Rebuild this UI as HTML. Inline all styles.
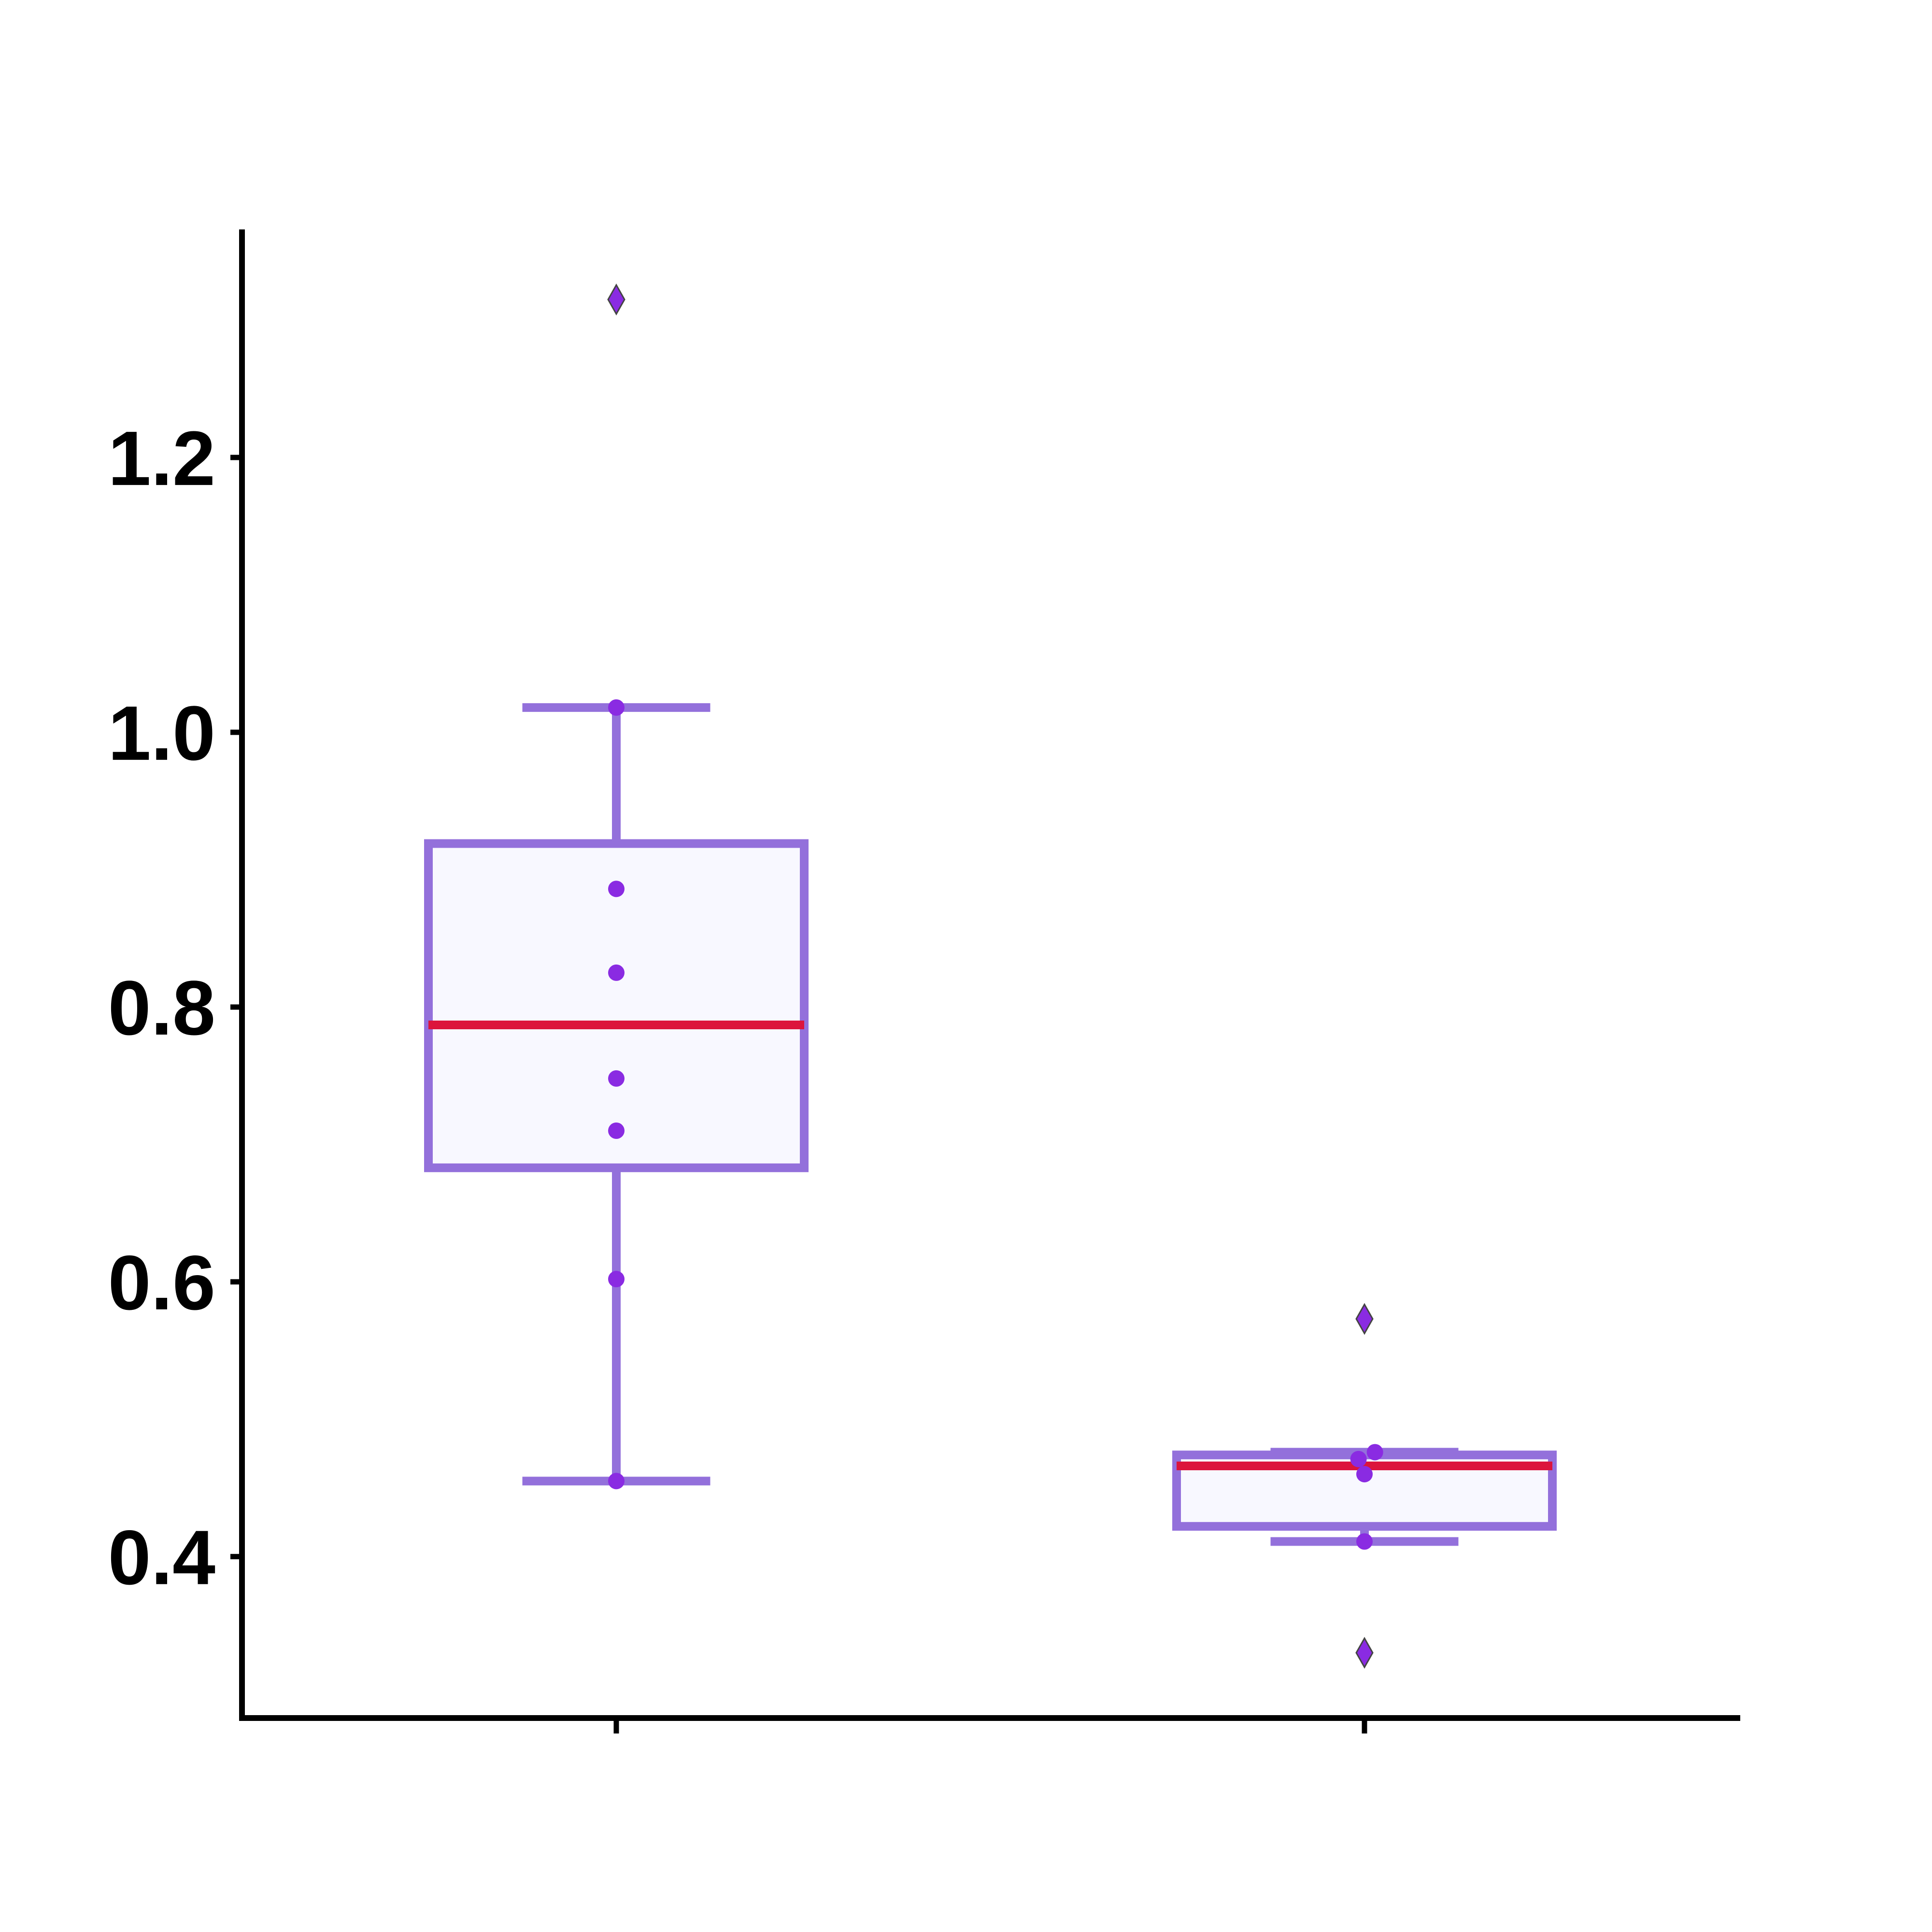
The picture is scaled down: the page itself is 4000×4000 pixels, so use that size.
<!DOCTYPE html>
<html><head><meta charset="utf-8"><style>
html,body{margin:0;padding:0;background:#fff}
svg{display:block}
text{font-family:"Liberation Sans",Arial,sans-serif;font-weight:bold}
</style></head><body>
<svg id="chart" width="4000" height="4000" viewBox="0 0 4000 4000" xmlns="http://www.w3.org/2000/svg"></svg>
<script>
const categories = ["A", "B"];
const q1Values = [0.683, 0.422];
const q3Values = [0.919, 0.474];
const medianValues = [0.787, 0.466];
const whiskerLow = [0.455, 0.411];
const whiskerHigh = [1.018, 0.476];
const pointsA = [1.018, 0.886, 0.825, 0.748, 0.710, 0.602, 0.455];
const pointsB = [0.471, 0.476, 0.460, 0.411];
const pointOffsetsB = [-0.008, 0.014, 0, 0];
const outliersA = [1.315];
const outliersB = [0.573, 0.330];
const yTicks = [0.4, 0.6, 0.8, 1.0, 1.2];
const yTickLabels = ["0.4", "0.6", "0.8", "1.0", "1.2"];

const svg = document.getElementById('chart');
const NS = 'http://www.w3.org/2000/svg';
const L = 501, R = 3603, T = 475, B = 3557;
const yMin = 0.2825, yMax = 1.366;
function y(v){ return B - (v - yMin) / (yMax - yMin) * (B - T); }
const catX = [1276, 2825];
const boxW = 778;
function x(i, off){ return catX[i] + (off || 0) * (catX[1] - catX[0]); }
function mk(tag, attrs){ const e = document.createElementNS(NS, tag); for (const k in attrs) e.setAttribute(k, attrs[k]); svg.appendChild(e); return e; }

const pts = [pointsA, pointsB];
const outs = [outliersA, outliersB];
categories.forEach((c, i) => {
  const cx = x(i);
  let e = mk('line', {x1: cx, x2: cx, y1: y(q3Values[i]), y2: y(whiskerHigh[i]), stroke: '#9370DB', 'stroke-width': 18});
  
  
  e = mk('line', {x1: cx, x2: cx, y1: y(q1Values[i]), y2: y(whiskerLow[i]), stroke: '#9370DB', 'stroke-width': 18});
  
  
  e = mk('line', {x1: cx - boxW / 4, x2: cx + boxW / 4, y1: y(whiskerHigh[i]), y2: y(whiskerHigh[i]), stroke: '#9370DB', 'stroke-width': 18});
  
  
  e = mk('line', {x1: cx - boxW / 4, x2: cx + boxW / 4, y1: y(whiskerLow[i]), y2: y(whiskerLow[i]), stroke: '#9370DB', 'stroke-width': 18});
  
  
  e = mk('rect', {x: cx - boxW / 2, y: y(q3Values[i]), width: boxW, height: y(q1Values[i]) - y(q3Values[i]), fill: '#F8F8FF', stroke: '#9370DB', 'stroke-width': 18});
  
  
  e = mk('line', {x1: cx - boxW / 2, x2: cx + boxW / 2, y1: y(medianValues[i]), y2: y(medianValues[i]), stroke: '#DC143C', 'stroke-width': 18});
  
  
  outs[i].forEach((v, k) => {
    const oy = y(v);
    const d = mk('polygon', {points: `${cx},${oy - 30} ${cx + 17},${oy} ${cx},${oy + 30} ${cx - 17},${oy}`, fill: '#8A2BE2', stroke: '#444', 'stroke-width': 3});
    
    
  });
  pts[i].forEach((v, k) => {
    const off = i === 1 ? pointOffsetsB[k] : 0;
    const p = mk('circle', {cx: x(i, off), cy: y(v), r: 17, fill: '#8A2BE2'});
    
    
  });
  const t = mk('line', {x1: cx, x2: cx, y1: B, y2: B + 32, stroke: '#000', 'stroke-width': 11});
  
  
});

yTicks.forEach((v, k) => {
  const t = mk('line', {x1: L - 24, x2: L, y1: y(v), y2: y(v), stroke: '#000', 'stroke-width': 11});
  
  
  const tx = mk('text', {x: 446, y: y(v) + 57, 'text-anchor': 'end', 'font-size': 160, fill: '#000'});
  tx.textContent = yTickLabels[k];
  
  
});

let ax = mk('line', {x1: L, x2: L, y1: T, y2: B + 6, stroke: '#000', 'stroke-width': 12});


ax = mk('line', {x1: L - 6, x2: R, y1: B, y2: B, stroke: '#000', 'stroke-width': 12});


</script>
</body></html>
